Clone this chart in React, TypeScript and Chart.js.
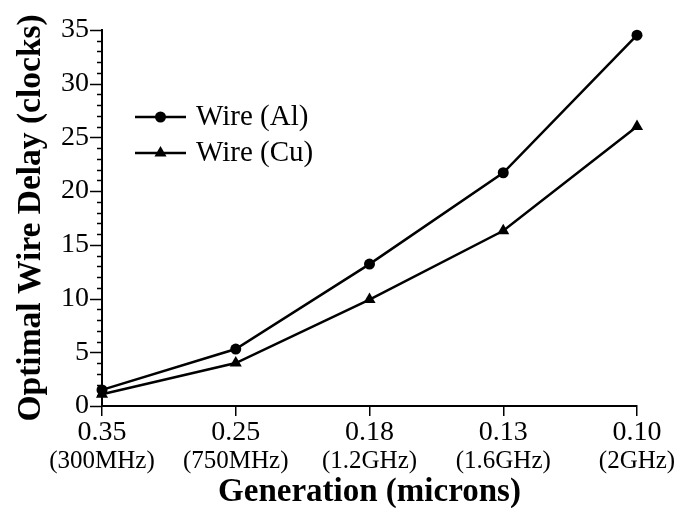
import { useEffect, useRef } from "react";
import { Chart, registerables } from "chart.js";

Chart.register(...registerables);

const generations = ["0.35", "0.25", "0.18", "0.13", "0.10"];
const frequencies = ["(300MHz)", "(750MHz)", "(1.2GHz)", "(1.6GHz)", "(2GHz)"];
const wireAl = [1.5, 5.3, 13.2, 21.7, 34.5];
const wireCu = [1.1, 4.0, 9.9, 16.3, 26.0];
const seriesLabels = ["Wire (Al)", "Wire (Cu)"];
const pointStyles = ["circle", "triangle"];
const yMin = 0;
const yMax = 35;
const yMajorStep = 5;
const yMinorStep = 1;

const FONT = "'Liberation Serif', 'Times New Roman', serif";

function drawMarker(ctx: CanvasRenderingContext2D, style: string, x: number, y: number, r: number) {
  ctx.beginPath();
  if (style === "circle") {
    ctx.arc(x, y, r, 0, Math.PI * 2);
  } else {
    let rad = 0;
    ctx.moveTo(x + Math.sin(rad) * r, y - Math.cos(rad) * r);
    rad += (2 * Math.PI) / 3;
    ctx.lineTo(x + Math.sin(rad) * r, y - Math.cos(rad) * r);
    rad += (2 * Math.PI) / 3;
    ctx.lineTo(x + Math.sin(rad) * r, y - Math.cos(rad) * r);
    ctx.closePath();
  }
  ctx.fill();
}

const customPlugin = {
  id: "customDecor",
  afterDraw(chart: any) {
    const ctx: CanvasRenderingContext2D = chart.ctx;
    const ys = chart.scales.y;
    const xs = chart.scales.x;
    const area = chart.chartArea;
    ctx.save();
    ctx.strokeStyle = "#000";
    ctx.fillStyle = "#000";
    // y major/minor ticks
    ctx.lineWidth = 1.5;
    for (let v = yMin; v <= yMax; v += yMinorStep) {
      const py = Math.round(ys.getPixelForValue(v)) + 0.5;
      const len = v % yMajorStep === 0 ? 12 : 5;
      ctx.beginPath();
      ctx.moveTo(area.left - len, py);
      ctx.lineTo(area.left, py);
      ctx.stroke();
    }
    // second line of x labels
    ctx.font = `25px ${FONT}`;
    ctx.textAlign = "center";
    ctx.textBaseline = "middle";
    frequencies.forEach((f, i) => {
      ctx.fillText(f, xs.getPixelForValue(i), 461);
    });
    // legend
    chart.data.datasets.forEach((ds: any, i: number) => {
      const ly = 117 + i * 36;
      const lx0 = area.left + 33;
      const lx1 = area.left + 84;
      ctx.lineWidth = 2.5;
      ctx.beginPath();
      ctx.moveTo(lx0, ly);
      ctx.lineTo(lx1, ly);
      ctx.stroke();
      drawMarker(ctx, ds.pointStyle, (lx0 + lx1) / 2, ly, ds.pointRadius);
      ctx.font = `29px ${FONT}`;
      ctx.textAlign = "left";
      ctx.textBaseline = "middle";
      ctx.fillText(ds.label, lx1 + 10, ly);
    });
    ctx.restore();
  },
};

export default function App() {
  const canvasRef = useRef<HTMLCanvasElement | null>(null);

  useEffect(() => {
    if (!canvasRef.current) return;
    const chart = new Chart(canvasRef.current, {
      type: "line",
      data: {
        labels: generations,
        datasets: [
          {
            label: seriesLabels[0],
            data: wireAl,
            borderColor: "#000",
            backgroundColor: "#000",
            borderWidth: 2.5,
            pointStyle: pointStyles[0],
            pointRadius: 5.5,
            pointBorderWidth: 0,
            tension: 0,
            clip: false,
          },
          {
            label: seriesLabels[1],
            data: wireCu,
            borderColor: "#000",
            backgroundColor: "#000",
            borderWidth: 2.5,
            pointStyle: pointStyles[1],
            pointRadius: 7,
            pointBorderWidth: 0,
            tension: 0,
            clip: false,
          },
        ],
      } as any,
      options: {
        responsive: false,
        animation: false,
        layout: { padding: { top: 25, right: 41, left: 0, bottom: 0 } },
        plugins: {
          legend: { display: false },
          tooltip: { enabled: false },
        },
        scales: {
          x: {
            type: "category",
            offset: false,
            grid: {
              drawOnChartArea: false,
              drawTicks: true,
              tickLength: 10,
              color: "#000",
              lineWidth: 1.5,
            },
            border: { display: true, color: "#000", width: 2 },
            ticks: {
              font: { family: FONT, size: 28 },
              color: "#000",
              padding: 0,
              maxRotation: 0,
              autoSkip: false,
            },
            title: {
              display: true,
              text: "Generation (microns)",
              font: { family: FONT, size: 33, weight: "bold" },
              color: "#000",
              padding: { top: 0, bottom: -4 },
            },
            afterFit: (s: any) => {
              s.height = 102;
            },
          },
          y: {
            min: yMin,
            max: yMax,
            grid: { drawOnChartArea: false, drawTicks: false },
            border: { display: true, color: "#000", width: 2 },
            ticks: {
              stepSize: yMajorStep,
              font: { family: FONT, size: 28 },
              color: "#000",
              padding: 13,
            },
            title: {
              display: true,
              text: "Optimal Wire Delay (clocks)",
              font: { family: FONT, size: 33.5, weight: "bold" },
              color: "#000",
              padding: { top: 11, bottom: 0 },
            },
            afterFit: (s: any) => {
              s.width = 102;
            },
          },
        },
      } as any,
      plugins: [customPlugin],
    });
    return () => chart.destroy();
  }, []);

  return (
    <div style={{ position: "absolute", left: 0, top: 0, width: 678, height: 508, background: "#fff" }}>
      <canvas ref={canvasRef} width={678} height={508} style={{ display: "block" }} />
    </div>
  );
}
